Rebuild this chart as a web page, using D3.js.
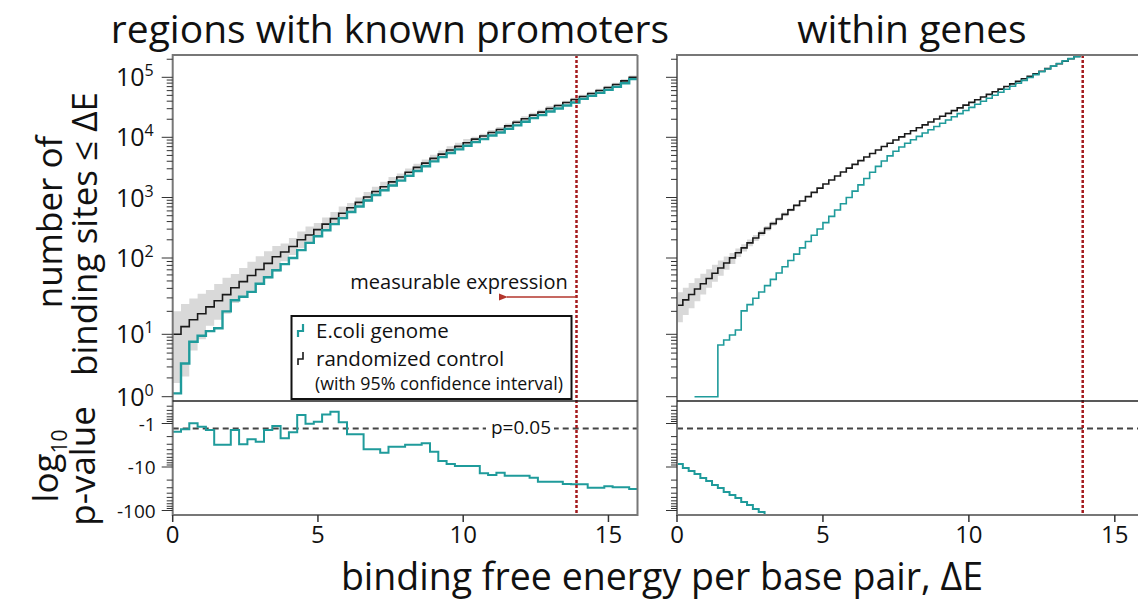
<!DOCTYPE html>
<html><head><meta charset="utf-8">
<script src="https://cdn.jsdelivr.net/npm/d3@7"></script>
<style>body{margin:0;background:#fff;} text{font-family:"Open Sans",sans-serif;fill:#111;}</style>
</head><body><svg id="c" width="1138" height="602"></svg>
<script>
// ---------------- data ----------------
const panelTitles = ["regions with known promoters", "within genes"];
const binLeft = 16 / 56;   // ΔE bin width (left panel)
const binRight = 0.2;      // ΔE bin width (right panel)
// cumulative number of binding sites <= ΔE, left panel (regions with known promoters)
const leftRandom = [10,12.6,15.5,18.6,22.9,27.5,33.1,40.7,49,58.9,70.8,85.1,105,126,155,200,240,295,363,447,550,676,832,1020,1260,1510,1820,2190,2630,3160,3720,4470,5250,6170,7080,8130,9330,10500,12000,13500,15500,17800,20400,23400,26300,30200,33900,38000,42700,47900,53700,60300,67600,75900,87100,100000];
const leftGenome = [1.13,3.4,7.6,9.5,11,12,20,28,31,36,46,56,69,83,100,135,178,229,288,363,457,575,708,891,1100,1320,1580,1910,2290,2750,3310,3980,4680,5500,6310,7240,8320,9330,10700,12000,13800,15800,18200,20900,23400,26900,30200,33900,38000,43700,49000,55000,61700,69200,79400,93300];
const leftBandHi = [20,25,29.5,33.9,38,45.7,55,61.7,74,89,107,129,158,174,214,275,331,380,468,575,708,813,1000,1230,1510,1820,2190,2510,3020,3630,4270,5130,6030,7080,8130,9330,10200,11500,13200,14800,17000,19500,22400,25700,28800,33100,36300,40700,45700,51300,57500,64600,72400,81300,93300,107000];
const leftBandLo = [1.66,2.1,5.5,8.3,12.9,15.5,18.6,25.7,30.9,37.2,44.7,53.7,66,91,112,145,174,234,288,355,437,562,692,851,1050,1260,1510,1950,2340,2820,3310,3980,4680,5500,6310,7240,8510,9550,11000,12300,14100,16200,18600,21400,24000,27500,31600,35500,39800,44700,50100,56200,63100,70800,81300,93300];
// log10 p-value, left panel
const leftLogP = [-1.55,-1.36,-0.99,-1.18,-1.41,-3.1,-3.1,-1.41,-3.0,-2.31,-2.62,-1.41,-1.14,-2.19,-1.59,-0.64,-1.01,-0.91,-0.62,-0.54,-0.94,-1.77,-1.77,-3.92,-3.92,-4.69,-3.41,-3.41,-3.1,-3.1,-2.85,-4.45,-7.28,-8.53,-9.49,-9.49,-9.49,-13.96,-15.3,-13.5,-15.85,-15.85,-15.85,-17.6,-21.8,-21.8,-21.8,-24.6,-25,-25,-29.9,-29.9,-27.8,-29.3,-29.3,-32];
// right panel (within genes)
const rightRandom = [24,28.3,33.3,39.2,46,53.9,63.1,73.8,86.1,100.5,121.8,147.2,177.7,214,257.5,309,370,442,526,625,742,877,1034,1217,1429,1674,1956,2279,2650,3071,3552,4096,4707,5395,6163,7019,7968,9019,10180,11460,12860,14410,16130,18040,20150,22480,25040,27880,30990,34410,38170,42300,46870,51900,57440,63490,70190,77570,85650,94470,104200,114900,126500,139300,153200,168600,185300,203400,223300,245000];
const rightGenome = [null,null,null,1,1,1,1,6.74,8.1,9.74,11.4,20.3,24.5,29.7,35.9,43.4,52.5,63.5,76.8,92.9,115.8,147.2,187.1,237.7,302,384,488,620,788,1002,1275,1623,2064,2622,3283,4047,4912,5866,6895,7980,9106,10360,11780,13370,15160,17180,19440,21970,24800,27970,31500,35450,39870,44810,50320,56460,63300,70920,79380,88790,99240,110800,123700,137900,153700,170000,188000,205000,220000,240000];
const rightBandHi = [35.5,40.9,47.1,54.1,62.1,71,81.3,92.9,105.9,120.8,143.1,169,201.7,240.2,285.6,338.7,401,473.5,564.4,662.4,776.5];
const rightBandLo = [14.4,17.9,22,27.1,33.3,40.9,49,58.6,70,83.6,103.7,128.2,156.6,190.8,232.3,281.8,341.4,412.1,491.2,590.5,708.2];
const rightLogP = [-8.5,-10.5,-12.4,-14.5,-17.9,-21,-26,-30.4,-37.5,-44,-51.5,-63.6,-74.8,-92.4,-108,-133,-160,-190];
// axes / annotations
const xTickValues = [0, 5, 10, 15];
const yTopMajor = [1, 10, 100, 1000, 10000, 100000];
const pMajor = [-1, -10, -100];
const markerE = 13.9;       // measurable expression threshold
const pThreshold = 0.05;
const legendLabels = ["E.coli genome", "randomized control", "(with 95% confidence interval)"];

// ---------------- layout ----------------
const svg = d3.select("#c");
const TOP = 55, SEP = 401, BOT = 515;
const teal = "#1f9b9b", red = "#a3191c";
const yTop = d3.scaleLog().domain([1, 10, 100, 1000, 1e4, 1e5]).range([396.7, 334.3, 258, 197.5, 137.3, 77.3]);
const yBot = d3.scaleLog().domain([1, 10, 100]).range([423.5, 467, 510.5]); // magnitude of log10 p
const panels = [
  {x: d3.scaleLinear([0, 16], [172.7, 637.5]), id: "L",
   random: leftRandom, genome: leftGenome, hi: leftBandHi, lo: leftBandLo, logp: leftLogP, bin: binLeft, tw: 2.4, title: panelTitles[0], tx: 390},
  {x: d3.scaleLinear([0, 16], [677, 1144]), id: "R",
   random: rightRandom, genome: rightGenome, hi: rightBandHi, lo: rightBandLo, logp: rightLogP, bin: binRight, tw: 1.6, title: panelTitles[1], tx: 912}
];
const defs = svg.append("defs");
defs.append("marker").attr("id", "arr").attr("viewBox", "0 0 10 10").attr("refX", 1).attr("refY", 5)
  .attr("markerWidth", 9).attr("markerHeight", 9).attr("markerUnits", "userSpaceOnUse").attr("orient", "auto")
  .append("path").attr("d", "M10,1 L0,5 L10,9 Z").attr("fill", "#b3362c");

function steps(values, bin) {
  const pts = values.map((v, i) => [i * bin, v]);
  pts.push([values.length * bin, values[values.length - 1]]);
  return pts;
}

panels.forEach(p => {
  const x = p.x, x0 = x.range()[0], x1 = x.range()[1];
  defs.append("clipPath").attr("id", "ct" + p.id).append("rect").attr("x", x0).attr("y", TOP).attr("width", x1 - x0).attr("height", SEP - TOP);
  defs.append("clipPath").attr("id", "cb" + p.id).append("rect").attr("x", x0).attr("y", SEP).attr("width", x1 - x0).attr("height", BOT - SEP);
  const gt = svg.append("g").attr("clip-path", `url(#ct${p.id})`);
  const gb = svg.append("g").attr("clip-path", `url(#cb${p.id})`);

  // confidence band
  const bandPts = p.hi.map((h, i) => [i * p.bin, p.lo[i], h]);
  bandPts.push([p.hi.length * p.bin, p.lo[p.lo.length - 1], p.hi[p.hi.length - 1]]);
  gt.append("path").attr("d", d3.area().curve(d3.curveStepAfter).x(d => x(d[0])).y0(d => yTop(d[1])).y1(d => yTop(d[2]))(bandPts))
    .attr("fill", "#d9d9d9");
  const line = d3.line().curve(d3.curveStepAfter).defined(d => d[1] != null).x(d => x(d[0])).y(d => yTop(d[1]));
  gt.append("path").attr("d", line(steps(p.random, p.bin))).attr("fill", "none").attr("stroke", "#1a1a1a").attr("stroke-width", 1.6);
  gt.append("path").attr("d", line(steps(p.genome, p.bin))).attr("fill", "none").attr("stroke", teal).attr("stroke-width", p.tw);

  // p-values
  const pline = d3.line().curve(d3.curveStepAfter).x(d => x(d[0])).y(d => yBot(-d[1]));
  gb.append("line").attr("x1", x0).attr("x2", x1).attr("y1", yBot(-Math.log10(pThreshold))).attr("y2", yBot(-Math.log10(pThreshold)))
    .attr("stroke", "#444").attr("stroke-width", 2).attr("stroke-dasharray", "6,4");
  gb.append("path").attr("d", pline(steps(p.logp, p.bin))).attr("fill", "none").attr("stroke", teal).attr("stroke-width", 2);

  // red marker line
  svg.append("line").attr("x1", x(markerE)).attr("x2", x(markerE)).attr("y1", TOP).attr("y2", BOT)
    .attr("stroke", red).attr("stroke-width", 2.5).attr("stroke-dasharray", "3,2");

  // frames
  svg.append("path").attr("d", `M${x1},${TOP}H${x0}V${BOT}H${x1}V${TOP}`).attr("fill", "none").attr("stroke", "#777").attr("stroke-width", 2);
  svg.append("line").attr("x1", x0).attr("x2", x1).attr("y1", SEP).attr("y2", SEP).attr("stroke", "#222").attr("stroke-width", 1.5);

  // y ticks
  const gy = svg.append("g").attr("stroke", "#333").attr("stroke-width", 1);
  const topTicks = [];
  yTopMajor.forEach(v => d3.range(1, 10).forEach(m => { const t = v * m; if (t < 2.4e5) topTicks.push(t); }));
  topTicks.forEach(t => {
    const maj = yTopMajor.includes(t);
    gy.append("line").attr("x1", x0 - (maj ? 11 : 6)).attr("x2", x0).attr("y1", yTop(t)).attr("y2", yTop(t));
  });
  const botTicks = [];
  [0.1, 1, 10, 100].forEach(v => d3.range(1, 10).forEach(m => { const t = v * m; if (t > 0.35 && t < 125) botTicks.push(t); }));
  botTicks.forEach(t => {
    const maj = pMajor.includes(-t);
    gy.append("line").attr("x1", x0 - (maj ? 11 : 6)).attr("x2", x0).attr("y1", yBot(t)).attr("y2", yBot(t));
  });
  // x ticks
  xTickValues.forEach(v => {
    gy.append("line").attr("x1", x(v)).attr("x2", x(v)).attr("y1", BOT).attr("y2", BOT + 7).attr("stroke-width", 1.5);
    svg.append("text").attr("x", x(v)).attr("y", BOT + 28).attr("text-anchor", "middle").attr("font-size", 24).text(v);
  });
  // title
  svg.append("text").attr("x", p.tx).attr("y", 43).attr("text-anchor", "middle").attr("font-size", 39).text(p.title);
});

// y tick labels (left panel only)
const xl = panels[0].x.range()[0];
yTopMajor.forEach(v => {
  const t = svg.append("text").attr("x", xl - 19).attr("y", yTop(v) + 9).attr("text-anchor", "end").attr("font-size", 25);
  t.append("tspan").text("10");
  t.append("tspan").attr("font-size", 16).attr("dy", -10).text(Math.round(Math.log10(v)));
});
pMajor.forEach(v => {
  svg.append("text").attr("x", xl - 17).attr("y", yBot(-v) + 7).attr("text-anchor", "end").attr("font-size", 19).text(v);
});

// p=0.05 label
const xL = panels[0].x;
const yP = yBot(-Math.log10(pThreshold));
svg.append("rect").attr("x", 486).attr("y", yP - 12).attr("width", 68).attr("height", 22).attr("fill", "#fff");
svg.append("text").attr("x", 521).attr("y", yP + 6).attr("text-anchor", "middle").attr("font-size", 19).text("p=" + pThreshold.toFixed(2));

// measurable expression annotation
svg.append("line").attr("x1", xL(markerE)).attr("x2", 507).attr("y1", 297).attr("y2", 297)
  .attr("stroke", "#b3362c").attr("stroke-width", 1.3).attr("marker-end", "url(#arr)");
svg.append("text").attr("x", 459).attr("y", 289).attr("text-anchor", "middle").attr("font-size", 20).text("measurable expression");

// legend
const lg = svg.append("g");
lg.append("rect").attr("x", 291.5).attr("y", 316).attr("width", 280).attr("height", 83).attr("fill", "#fff").attr("stroke", "#111").attr("stroke-width", 2);
lg.append("path").attr("d", "M298,337V331H303V324").attr("fill", "none").attr("stroke", teal).attr("stroke-width", 2.2);
lg.append("path").attr("d", "M298,365V359H303V352").attr("fill", "none").attr("stroke", "#1a1a1a").attr("stroke-width", 1.6);
lg.append("text").attr("x", 316).attr("y", 338).attr("font-size", 20.5).text(legendLabels[0]);
lg.append("text").attr("x", 316).attr("y", 366).attr("font-size", 20.5).text(legendLabels[1]);
lg.append("text").attr("x", 315).attr("y", 390).attr("font-size", 17.8).text(legendLabels[2]);

// axis titles
svg.append("text").attr("x", 662).attr("y", 590).attr("text-anchor", "middle").attr("font-size", 37.5).text("binding free energy per base pair, ΔE");
svg.append("text").attr("transform", "translate(62,222) rotate(-90)").attr("text-anchor", "middle").attr("font-size", 35).text("number of");
svg.append("text").attr("transform", "translate(97,234) rotate(-90)").attr("text-anchor", "middle").attr("font-size", 35).text("binding sites ≤ ΔE");
const lt = svg.append("text").attr("transform", "translate(58,466) rotate(-90)").attr("text-anchor", "middle").attr("font-size", 35);
lt.append("tspan").text("log");
lt.append("tspan").attr("font-size", 21).attr("dy", 9).text("10");
svg.append("text").attr("transform", "translate(95,466) rotate(-90)").attr("text-anchor", "middle").attr("font-size", 35).text("p-value");
</script>
</body></html>
